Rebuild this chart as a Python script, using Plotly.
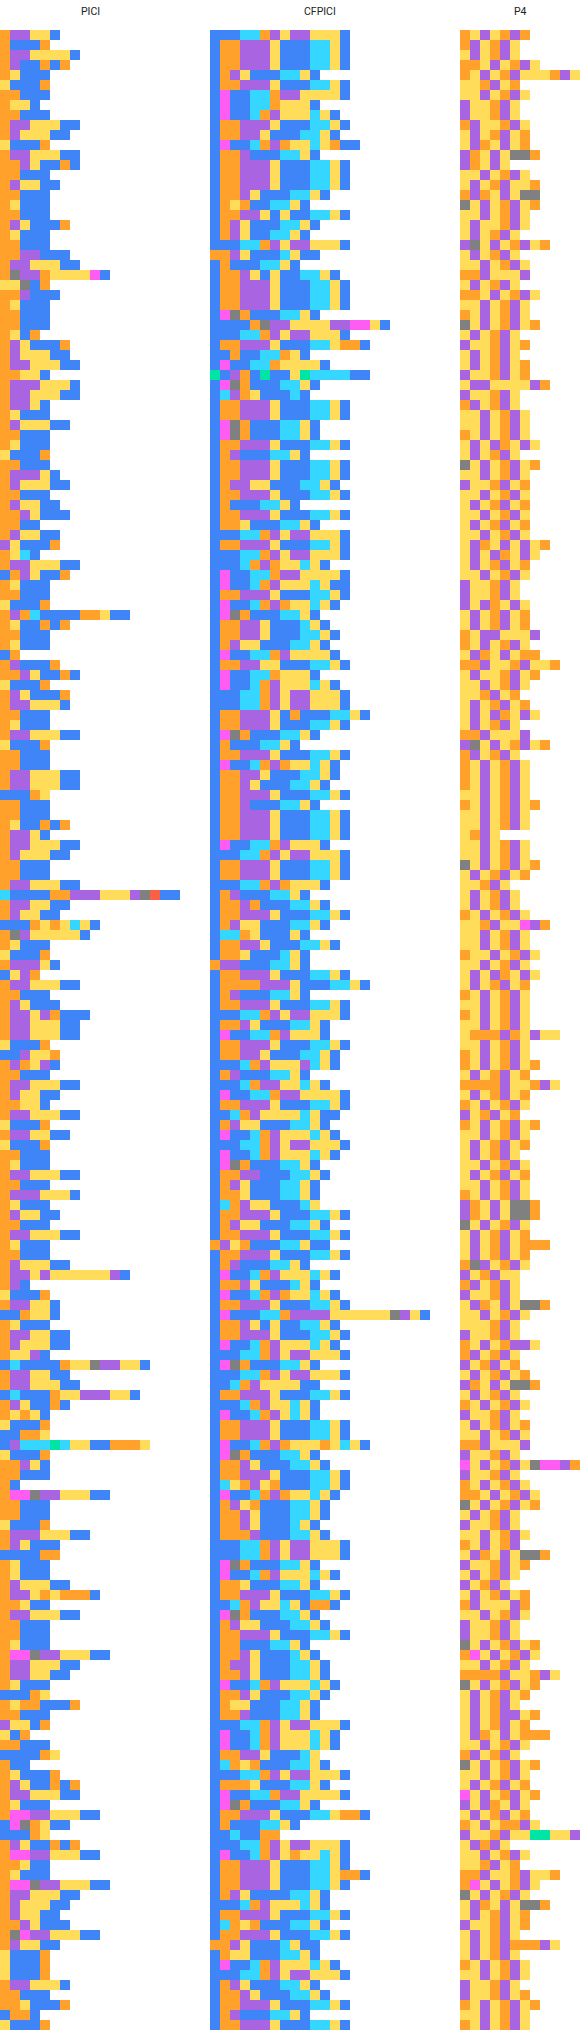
import plotly.graph_objects as go

PANEL_TITLES = ["PICI", "CFPICI", "P4"]

CODES = ["O", "Y", "P", "B", "C", "M", "G", "T", "R"]
COLOURS = ["#FFA12A", "#FFDC5A", "#A964E2", "#3F85F7", "#35D6FF", "#FF5CF4", "#808080", "#00E5A5", "#FC6044"]

PICI = """OPPYYB OBBBO OPPYYYYB OPBBOBO OYBBB YBBBO OOBBB OYYB OOBBB OPPYYYBB OPYYYBB YBBBO OPPYYYBB OOPYBBOB OOBBB OPYYBB
OOBBB OYBBB OOBBB OPYBBBO OYBBB OOBBB OOPPBBB OPPYYYBB OGPPOYYYYMB YYGBO OOPBBB OYBBB OOBBB OOBBB OYBO OPYBBBO
OPYYYBB OPPYYYBB OOYYB OPPPYYYB OPPYYYBB OPPYB OYBBB OPYYYBB OOBBB OYBBB YBBBO OOBBB OPPPYB OPYYYBB OOBBB OPYYBB
OOPYBBB OOBB OPYYBB PYBBBO OYCB OPPYYYBB BOPYBBO OYBBB OOBBB YBBBO OPOCBBBBOOYBB OYBBOBO OOBBB OYBBB BO OPBBBO
OOPYBBOB YBBBO OPYBBBO OPPYYYB OOBBB OYBBB OPPYYYBB YBBBO OOBBB OOBBB OPPYYYBB OPPYYYBB BBBOY OOBBB OOBBB OYBBOBO
OPPYB OPPYYYBB OPYYYBB OOBBB OOBBB OPPYYYBB CBBBBOOPPPYYYPGRBB OPPYYBB OPYYBB BBBOYOYCYB OGPYYYYYB OYBBB YBBBO OPPPYB BYPO OPPYYYBB OOBBB OPYBBB OPPYPOBBB
OPPYYYBB OPPYYYBB YBBBO BBPYYO OPOYPB OOBBB OPPYYYBB OPYYBB OOYYB OPPYYYBB YBBBO OPPYYBB YBBBO OOBBB OYBBB OPPYYYBB
OOBBB OPPPYYYB OYBBB OPYYBB OOBBB OPPYYYBB OYBBB OOBBB OPYYYBB OPPYPYYYYYYPB OPB YBBBO OPPYYB BBOYYB OYBBB OPPYYBB
OPYYYBB OYYPB BCBBBBOYYGPPYYB OPPYYBB OPPYYYBB BCBBBOYYPPPYYB OPYBBOB OYOYB YBBBO BBOOY BPCCCTCYYBBOOOY YBBBO OOPYB OOBBB OB OMMGPPYYYBB OOBBB OOBBB YBBBO
OPPPYYYBB OPYBBB BBBBOO OYBBB OYBBB OPYYYBB OPPYOYOOOB OOYBB OPPYYYBB OOBBB OOBBB OYBBB OMMGPPYYYBB OPPYYYBB OPPYYBB OYBBB
BBBOY OYOOBBBO OOBBB PYYBO YBO OOBBB BBBBOY OBB OYBBBO OPYBBOBO OPPYYYBB OYBBB OMMPPYYYBB BMGOYBB BBBOY OPYBBOBO
OMMPPYYYBB OOYBB OYBBB OMMGPPYYYBB OPPYYYBB OPYYYBB OPYYBB OOPYBBB OGMPPYYYBB OPYYBB YBBBO YBBBO YBBBO OPPYYYB OOBBB OOYBBBO BOOB YBBBO""".split()

CFPICI = """BBBCCOPYPPYYYB BOOPPPYBBBCCYB BOOPPPYBBBCCYB BOOPPPYBBBCCYB BOPYBBBCCYB BOOPPPYBBBCCYB BMBBCCOPPYYYYB BMBBCCOYYYB
BMBBCOPYYYCYB BOOPPPYBBBCCYB BOOPPYBBBCCYB BMBBCOPOYYCYOBB BOOPBBBCCYB BOOPPPYBBBCCYB BOOPPPYBBBCCYB BOOPPPYBBBCCYB
BOOPYBBBCCYB BOYOBBCCYB BOOPPYBYBBCCYB BOPYBBBCCYB BOPYBBCCYB BBBCCOPYPPYYYB OOPYBBBCYBB BOBBBCCYB
BOOPYBYBBCCYB BOOPPPYBBBCCYB BOOPPPYBBBCCYB BOOPPPYBBBCCYB BMGOBBBCCYB BBBBOGPPYYYYPPMMYB BBBCCOPYPPYYYB BOOPPPYBBBCCYOOB
BBOBBCCOYB BMBBCCOYYYYB TBPOBTBBYTCCCCBB BMGOBBBCCYB BCPOYBBBCB BOOPPPYBBBCCYB BOOPPPYBBBCCYB BMGOBBBCCYB BMGOBBBCCYB BOOPPPYBBBCCYB
BOPBBBCCYB BOOPPPYBBBCCYB BOOPPPYBBBCCYB BOPPYYBBBCCYB BOOPPPYBBBCCYB BOBBBCCYB
BOOPPPYBBBCCYB BOOYBBBCCYB BBBCCOPYPPYYYB BOOPPPYBBBCCYB BBBCCOPYPPYYYB BBBCOPOYYCYB BMBBCCOPPYYYYB BMBBCOPYYYCYBB
BOOPPPYBBBCCYB BMBBCOPOYYCYB BMGOBBBCCYB BOOPPYBBBCYB BOOPPYBBBCCYB BOPYYBBBCCYB BMBBCCOPYYYYB BOOPPYYBBBCCYB
BMBBCCOYYYB BMBBCOPYYYCYB BBBCCOPYPPYYYB BBBCCOPYPPYYYB BOOPPPYBOBBBCCYB BOOPPPYBBBCCYB BMGOBBBCCYB BOBBBCCYB
BOOPPPYBBBCCYB BMBBCOPOYYCYB BOOPPYBBBCCYB BOOPYBBBCCYB BOOPPPYBBBCCYB BOOPBBBCCYB BOOPPPYBBBCCYB BOOPPPYBBBCCYB BOOPPPYBBBCCYB
BMBBCCOPYYYB BBBCCOPYPPYYYB BOOPPPYBBBCCYB BOOPPPYBBBCCYB BBBCCOPOYYYB BOPBBBCCYB BOOPOBBBCCYB BOOPPPYBBBCCYB BOPYYBBBCCYB
BCCOYBBBYB BOOPPYBBBCCYB BOOYBBBCYB OPPBBBCCYB BOOPPPYBBBCCYB BOOOOPPPYBBBCCYB BOPBBBCCYB BOOPPPYBBBCCYB BBBCCOPYPPYYYB
BOOPYBBBCCYB BMBBCCOPYYYB BOOPPPYBBBCCYB BOOPPYBBBCCYB BBBCOPYYYPCYB BOPBBBCCYB BBBCOPPYYCYB BMBBCCOPPYYYYB BOOPPPYBBBCCYB
BBCOPYYYYCYBB BOPYYBBBCCYB BMBBCOPYYYCYB BBBCCOPYPPYYYB BMBBCOPYYYCYB BMGOBBBCCYB BOOPPBBBCCYB BOPYBBBCCYB BOOYBBBCCYB
BCOPYYBBBCY BOOPPPYBBBCCYB BOPYYBBBCCYB BOOPPPYBBBCCYB OPYOBBBCCYBB BOOPPPYBBBCCYB BOPBBBCCYB BMBBCOPYYYCYB BOOPYBBBCYB
BMBBCOPOYYCYB BOOPPPYBBBCCYB BMBBBCCOPPPPYYYYYYGPYB BOOPYBYBBCCYB BOOPPPYBBBCCYB BMBBCOPYYYCYB BBBCCOPYPPYYYB BMGOBBBCCYB
BBBCCOPYPPYYYB BBCOPYYYYBB BOOPPPYBBBCCYB BBBCOPYYCYB BMBBCOPYCYB BOOPPPYBBBCCYB BOOPPPYBBBCCYB BMBBCOPOYYYOYCYB BMGOBBBCCYB
BOOPYBBBCCYB BOOPPPYBBBCCYB BCYOPYOBBBCCYB BMBBCOPOYYCYB BOPYOBBBCCYB BOOPYBBBCCYB BOOPYBBBCYB
BOOOPBBBCCYB BBBCCOPYPPYYYB BBBCCOPYPPYYYB BMGOBBBCCYB BMBBCOPYYYCYB BOOYBBBCCYB BOOPPPYBBBCCYB BBCOPYYCYBOOB BMGOBBBCCYB
BOPYYBBBCCYB BOOPPPYBBBCCYB BOOBBBCCYB BOOPYBBBCYB BOPPYBBBCCYB BOOPYBBBCCYB BMBBCOPYYYCYB BOOPYBBBCCYB BOYYBBBCCYB
BOOPBBBCCYB BBBCCOPYPPYYYB BMBBCOPYYYCYB BMBBCOPYYYCYB BOOPPYBBBCY BCOYOBBBCCYB BBBCCOPYPPYYYB BOOOYBBBCCYB BMBBCCOPPYYYYB
BMGOBBBCCYB BOOPPPYBBBCCYOOB BOBBBCCYB BBCBBOO BBBCCOPYPPYYYB BMBBCOPYOYYCYB BOOPPPYBBBCCYB BOOPPPYBBBCCYOOB BOOPPPYBBBCCYB
BOPYBBBBCCYB BBBCOPYYYCYB BOOPPPYBBBCCYB BCOYOBBBCCYB BOOPPPYBBBCCYB OOPYBBBCYBB BOYYBBBCCYB BMBBCOPYYYCYB BBBCCOPYPPYYYB
BOPYBBBCCYB BOOPYBBBCCYB BOOPPPYBBBCCYB BOPBBBCCYB BOOPPPYBBBCCYB""".split()

P4 = """OYPYOPO OPYOPY YPYOPY OOYPYOPY OYPYOPYYYOPY YYOPYO YYPYOPY PYYOPY PYYOPY OPYYOPY YPYOPYO YPOYPYO POYPYGGO POYPY YYPYOPY YPYOPYYO
OPOYPYGG GYPYOPYO YYPYOPY YPYYOPY YPYOPY PGYPYOPYO YPYOPY YYPYOPY OOPYYYP YPYOPY OOYPYOPY YYPYOPY OYPYOPY GYPYOPYO YPYOPY PYYOPYO
YPYOPY YPYOPYO PYYOPYO YPPYYYYPO PYYOPY OPYOPY YYPYOPY YYPYOPY OYPYOPY YPYPOYPY YPYOPY GYPYOPYO YYPYOPY PYYOPYO YYPYOPY YPYOPYO
YYPYOPY YPYOPYO YYPYOPY YPOYPYPYO YPYPOYPY YPYOPYO YYPYOPY PYYOPY PYYOPY PYPOYPY YPYOPYO YPYOPYO OYPPYYYP OYPYOPY YPOYPYOO OOPYYOPYYO
YPYYOPYO YYPYOPY YYOPYO YPYOPYO YPYPOYPY YPYOPY OOPYYYP PGYPYOPYO OPYOPY OYPYOPY OYPYOPY OYPYOPY YYPYOPY OYPYOPYO YYPYOPY YYPYOPY
YOPY YYPYOPY YYPYOPY GYPYOPYO YPYOPYO YYOPY YPYOPY YPYOPY OYPYOPY YYOPYYMPO YYPYOPY YYPYOPY OYYPYOPY YYPYOPY YPYPOYPY YPYOPYO OYPYOPY YYPYOPY OYPYOPY
YYPYOPY YOOOPOYPYY YYPYOPY OYPYOPY OYPYOPYO YPYOPYO OOOOPYYOPY YPYOPYO OYPYOPY PYOPYO OYPYOPYO YYPYOPY YPYOPYO YPYOPY YYPYOPY YPYOPYO YYPYOPY
OYPYOPY POYPYGGO POYPYGGO GYPYOPY YPYOPYO YPYOPYOOO YPYOPYO OGPYOPY PYOPYY OPYOPY PYYOPY YPOYPYGGO YYPYOPY YYYOPY PYYOPY OYPYOPPY OPYOPY
PYOPYO YPYOPYO POYPYGGO YPYOPY OYPYOPY PYYOPY YPYOPYO YYPYOPY OOPYYYP PYYOPY MYPYOPYGMMPO PYYOPY OYPYOPY OOYPYOPY GYPYOPYO YPYOPY PYYOPY
YYPYOPY OYPYOP YPOYPYGGO PYYOPYO YPYOPY PYOPY YPYOPYO OPYYYPO YYPYOPY PYYOPY PYYOPY GYPYOPYO OMYPYOPY YYPYOPY OOOOPYYOPY GYPYOPYO
YPYOPYO YPYOPY YPYOPPYO YPYOPYO YPOYPYOOO YYPYOPY OPYOPY GYPYOPYO YYPYOPY YPYOPYO MYPYOPYO PYPOYPY YPYOPYO OYPYOOPY PYYOPYYTTYYP YPOPY
YYPYOPY YYOPYO OOPYYOPYYO OMYPYOPY GYPYOPY YPOYPYGGO YPYOPYO PYYOPYO YPYOPY YPYOPOOOPY YPYOPY OYPYOPY YYPYOPY PYYOPY PYYOPYO OYPYOPYO YYPYOPY OYPYOPY""".split()

FIG_W, FIG_H, TOP = 580, 2030, 30
PANELS = [(PICI, 0, 18), (CFPICI, 210, 22), (P4, 460, 12)]

n = len(CODES)
scale = []
for i, c in enumerate(COLOURS):
    scale += [[i / n, c], [(i + 1) / n, c]]

fig = go.Figure()
annotations = []
for k, (rows, x0, ncol) in enumerate(PANELS):
    print(PANEL_TITLES[k], len(rows), max(len(r) for r in rows))
    z = [[CODES.index(ch) + 0.5 for ch in r] + [None] * (ncol - len(r)) for r in rows]
    sfx = "" if k == 0 else str(k + 1)
    fig.add_trace(go.Heatmap(z=z, colorscale=scale, zmin=0, zmax=n, showscale=False,
                             xaxis="x" + sfx, yaxis="y" + sfx, hoverongaps=False))
    dom = [x0 / FIG_W, (x0 + ncol * 10) / FIG_W]
    fig.layout["xaxis" + sfx] = dict(domain=dom, visible=False, range=[-0.5, ncol - 0.5], fixedrange=True)
    fig.layout["yaxis" + sfx] = dict(domain=[0, (FIG_H - TOP) / FIG_H], visible=False,
                                     range=[len(rows) - 0.5, -0.5], fixedrange=True)
    annotations.append(dict(text=PANEL_TITLES[k], x=(dom[0] + dom[1]) / 2, y=(FIG_H - 11) / FIG_H,
                            xref="paper", yref="paper", showarrow=False, xanchor="center", yanchor="middle",
                            font=dict(family="Roboto", size=10.5, color="#222222")))

fig.update_layout(width=FIG_W, height=FIG_H, margin=dict(l=0, r=0, t=0, b=0, autoexpand=False),
                  paper_bgcolor="white", plot_bgcolor="white", annotations=annotations, showlegend=False)
fig.write_html("out.html", config={"displayModeBar": False},
               post_script="document.body.style.margin='0';document.body.style.overflow='hidden';")
